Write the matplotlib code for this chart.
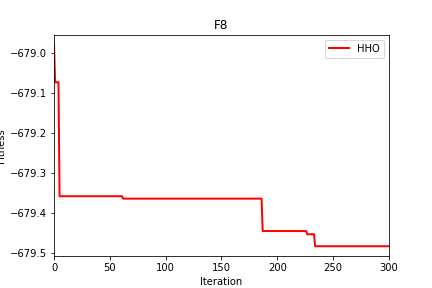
import numpy as np
import matplotlib
matplotlib.use("Agg")
import matplotlib.pyplot as plt

# change points (iteration where a new best fitness appears) and their values
change_iters = [0, 1, 5, 62, 187, 227, 234]
best_values = [-678.978, -679.072, -679.357, -679.363, -679.444, -679.452, -679.482]
max_iter = 300

counts = np.diff(change_iters + [max_iter + 1])
fitness = np.repeat(best_values, counts)
iters = np.arange(max_iter + 1)

fig, ax = plt.subplots(figsize=(6, 4), dpi=72)
ax.plot(iters, fitness, color="red", linewidth=2, label="HHO")
ax.set_xlim(0, max_iter)
ax.set_title("F8")
ax.set_xlabel("Iteration")
ax.set_ylabel("Fitness")
ax.legend(loc="upper right")
fig.savefig("out.png", dpi=72)
